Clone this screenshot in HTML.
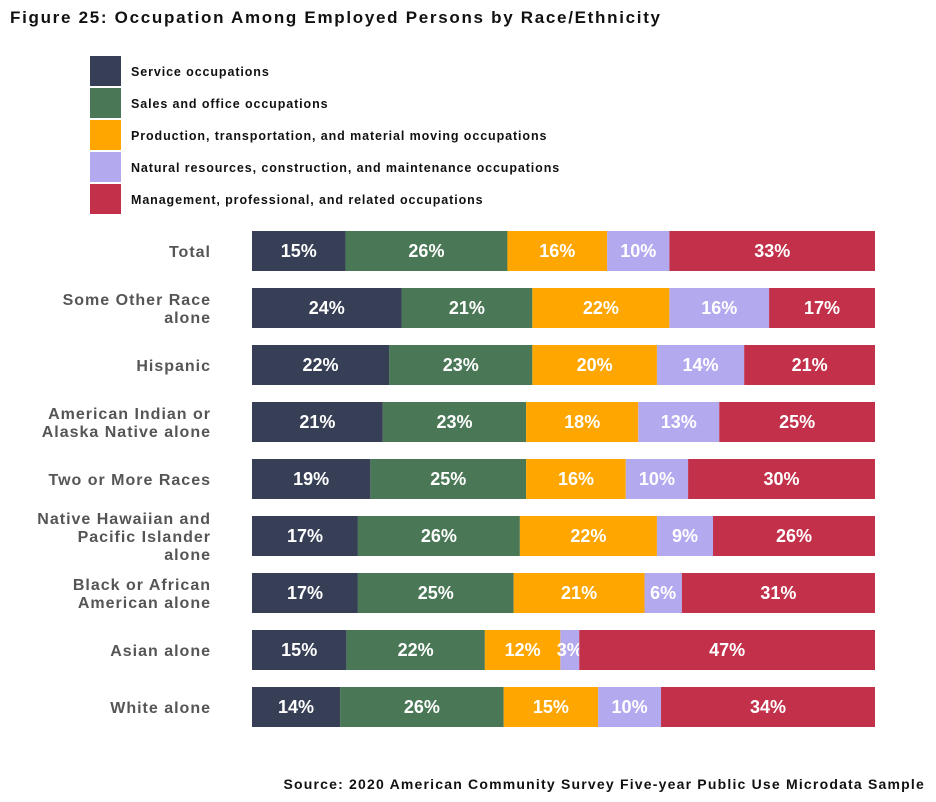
<!DOCTYPE html>
<html><head><meta charset="utf-8"><style>
body{margin:0;background:#fff;width:936px;height:802px;overflow:hidden;font-family:"Liberation Sans",sans-serif;}
svg{display:block}
</style></head><body>
<svg width="936" height="802" id="chart">
<text x="10" y="23" font-size="17" letter-spacing="1.7" font-weight="bold" fill="#111">Figure 25: Occupation Among Employed Persons by Race/Ethnicity</text>
<g id="legend"></g><g id="rows"></g>
<text x="925" y="789" text-anchor="end" font-size="14" letter-spacing="1.2" font-weight="bold" fill="#111">Source: 2020 American Community Survey Five-year Public Use Microdata Sample</text>
</svg>
<script>
const series=["Service occupations","Sales and office occupations","Production, transportation, and material moving occupations","Natural resources, construction, and maintenance occupations","Management, professional, and related occupations"];
const colors=["#363f55","#4a7856","#ffa600","#b3a9ee","#c3304a"];
const categories=[["Total"],["Some Other Race","alone"],["Hispanic"],["American Indian or","Alaska Native alone"],["Two or More Races"],["Native Hawaiian and","Pacific Islander","alone"],["Black or African","American alone"],["Asian alone"],["White alone"]];
const service=[15,24,22,21,19,17,17,15,14];
const sales=[26,21,23,23,25,26,25,22,26];
const production=[16,22,20,18,16,22,21,12,15];
const natural=[10,16,14,13,10,9,6,3,10];
const management=[33,17,21,25,30,26,31,47,34];
const NS="http://www.w3.org/2000/svg";
function mk(t,a,p){const e=document.createElementNS(NS,t);for(const k in a)e.setAttribute(k,a[k]);p.appendChild(e);return e;}
const lg=document.getElementById('legend');
series.forEach((s,i)=>{
 const r=mk('rect',{x:90,y:56+i*32,width:31,height:30,fill:colors[i]},lg);
 
 
 const t=mk('text',{x:131,y:76+i*32,'font-size':12.5,'letter-spacing':0.9,'font-weight':'bold',fill:'#111'},lg);t.textContent=s;
 
 
});
const x0=252,W=623,rowY=i=>231+i*57,bh=40;
const data=[service,sales,production,natural,management];
const rows=document.getElementById('rows');
categories.forEach((c,i)=>{
 const y=rowY(i);
 const lab=mk('text',{x:211,'text-anchor':'end','font-size':16,'letter-spacing':1.0,'font-weight':'bold',fill:'#555'},rows);
 
 
 const lh=18,start=y+bh/2+6-(c.length-1)*lh/2;
 c.forEach((l,j)=>{const ts=mk('tspan',{x:211,y:start+j*lh},lab);ts.textContent=l;});
 const tot=data.reduce((a,d)=>a+d[i],0);
 let acc=0;
 data.forEach((d,k)=>{
  const xs=x0+acc/tot*W,w=d[i]/tot*W;acc+=d[i];
  const r=mk('rect',{x:xs,y:y,width:w,height:bh,fill:colors[k]},rows);
  
  
  const t=mk('text',{x:xs+w/2,y:y+bh/2+6,'text-anchor':'middle','font-size':18,'font-weight':'bold',fill:'#fff'},rows);
  t.textContent=d[i]+'%';
  
  
 });
});
</script>
</body></html>
